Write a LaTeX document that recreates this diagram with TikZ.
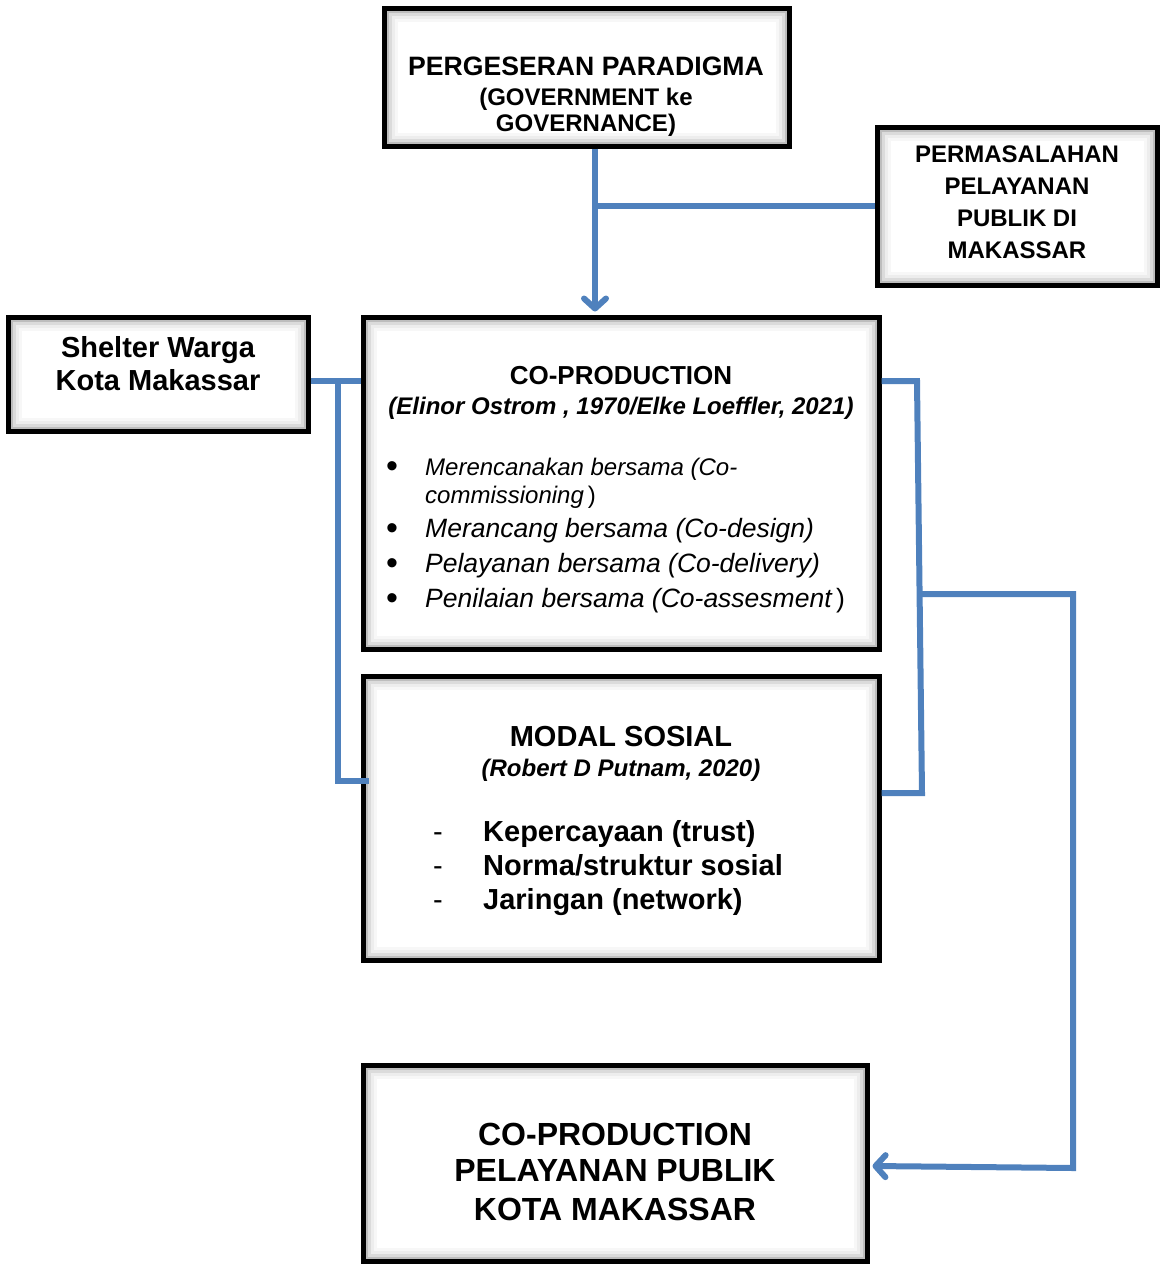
\documentclass[tikz,border=0pt]{standalone}
\usepackage{fontspec}
\setmainfont{Liberation Sans}
\usetikzlibrary{arrows.meta,calc}
\definecolor{linkblue}{HTML}{4F81BD}
\newcommand{\pxsize}[1]{\fontsize{#1}{#1}\selectfont}

\begin{document}
\begin{tikzpicture}[x=1pt,y=-1pt,
  box/.style={draw=black, line width=5pt, fill=white, rectangle, inner sep=0pt,
    path picture={
      \foreach \d/\o in {3/0.26,6/0.14,9/0.07,12/0.03}
        \draw[line width=3pt, black, opacity=\o]
          ([xshift=\d pt, yshift=-\d pt]path picture bounding box.north west) rectangle
          ([xshift=-\d pt, yshift=\d pt]path picture bounding box.south east);
    }},
  link/.style={draw=linkblue, line width=6pt, line join=miter},
  tip/.style={-{Straight Barb[length=10pt,width=22pt,round]}},
  txt/.style={inner sep=0pt, anchor=base},
  lefttxt/.style={inner sep=0pt, anchor=base west}
]
\useasboundingbox (0,0) rectangle (1160,1264);

% boxes
\node[box, minimum width=405pt, minimum height=138pt] (para) at (586.5,77) {};
\node[box, minimum width=280pt, minimum height=158pt] (probl) at (1017,206) {};
\node[box, minimum width=300pt, minimum height=114pt] (shelter) at (158,374) {};
\node[box, minimum width=516pt, minimum height=332pt] (copro) at (621,483) {};
\node[box, minimum width=516pt, minimum height=284pt] (modal) at (621,818) {};
\node[box, minimum width=504pt, minimum height=196pt] (final) at (615,1163) {};

% box texts
\node[txt, font=\pxsize{26.6}\bfseries] (paraA) at (586,75) {PERGESERAN PARADIGMA};
\node[txt, font=\pxsize{24}\bfseries] (paraB) at (586,105) {(GOVERNMENT ke};
\node[txt, font=\pxsize{24}\bfseries] (paraC) at (586,131) {GOVERNANCE)};

\node[txt, font=\pxsize{24}\bfseries] (problA) at (1017,162) {PERMASALAHAN};
\node[txt, font=\pxsize{24}\bfseries] (problB) at (1017,194) {PELAYANAN};
\node[txt, font=\pxsize{24}\bfseries] (problC) at (1017,226) {PUBLIK DI};
\node[txt, font=\pxsize{24}\bfseries] (problD) at (1017,258) {MAKASSAR};

\node[txt, font=\pxsize{29}\bfseries] (shelterA) at (158,357) {Shelter Warga};
\node[txt, font=\pxsize{29}\bfseries] (shelterB) at (158,390) {Kota Makassar};

\node[txt, font=\pxsize{26}\bfseries] (coproA) at (621,384) {CO-PRODUCTION};
\node[txt, font=\pxsize{24}\bfseries\itshape] (coproB) at (621,414) {(Elinor Ostrom , 1970/Elke Loeffler, 2021)};
\foreach \n/\y in {1/477,2/539,3/574,4/609}
  \node[txt, font=\pxsize{34}] (bul\n) at (392,\y) {•};
\node[lefttxt, font=\pxsize{24}\itshape] (itemA) at (425,475) {Merencanakan bersama (Co-};
\node[lefttxt, font=\pxsize{24}\itshape] (itemA2) at (425,503) {commissioning\,{\upshape)}};
\node[lefttxt, font=\pxsize{26.5}\itshape] (itemB) at (425,537) {Merancang bersama (Co-design)};
\node[lefttxt, font=\pxsize{26.5}\itshape] (itemC) at (425,572) {Pelayanan bersama (Co-delivery)};
\node[lefttxt, font=\pxsize{26.5}\itshape] (itemD) at (425,607) {Penilaian bersama (Co-assesment\,{\upshape)}};

\node[txt, font=\pxsize{29}\bfseries] (modalA) at (621,746) {MODAL SOSIAL};
\node[txt, font=\pxsize{24}\bfseries\itshape] (modalB) at (621,776) {(Robert D Putnam, 2020)};
\foreach \n/\y in {1/841,2/875,3/909}
  \node[txt, font=\pxsize{29}] (dash\n) at (438,\y) {-};
\node[lefttxt, font=\pxsize{29}\bfseries] (modA) at (483,841) {Kepercayaan (trust)};
\node[lefttxt, font=\pxsize{29}\bfseries] (modB) at (483,875) {Norma/struktur sosial};
\node[lefttxt, font=\pxsize{29}\bfseries] (modC) at (483,909) {Jaringan (network)};

\node[txt, font=\pxsize{32}\bfseries] (finalA) at (615,1145) {CO-PRODUCTION};
\node[txt, font=\pxsize{32}\bfseries] (finalB) at (615,1181) {PELAYANAN PUBLIK};
\node[txt, font=\pxsize{32}\bfseries] (finalC) at (615,1220) {KOTA MAKASSAR};

% junction points of the connectors
\coordinate (trunk) at (595,206);
\coordinate (sj) at (338,381);
\coordinate (sb) at (338,781);
\coordinate (rt) at (917,381);
\coordinate (rb) at (922,793);
\coordinate (rm) at (920,594);
\coordinate (far) at (1073,594);
\coordinate (farb) at (1073,1168);

% connectors
\draw[link, tip] (trunk |- para.south) -- ($(trunk |- copro.north)+(0,-3)$);
\draw[link] (trunk) -- (trunk -| probl.west);
\draw[link] (sj -| shelter.east) -- (sj -| copro.west);
\draw[link] (sj) -- (sb) -- ($(sb -| modal.west)+(8,0)$);
\draw[link] (rt -| copro.east) -- (rt) -- (rb) -- (rb -| modal.east);
\draw[link, tip] (rm) -- (far) -- (farb) -- ($(farb -| final.east)+(3,-2)$);
\end{tikzpicture}
\end{document}
